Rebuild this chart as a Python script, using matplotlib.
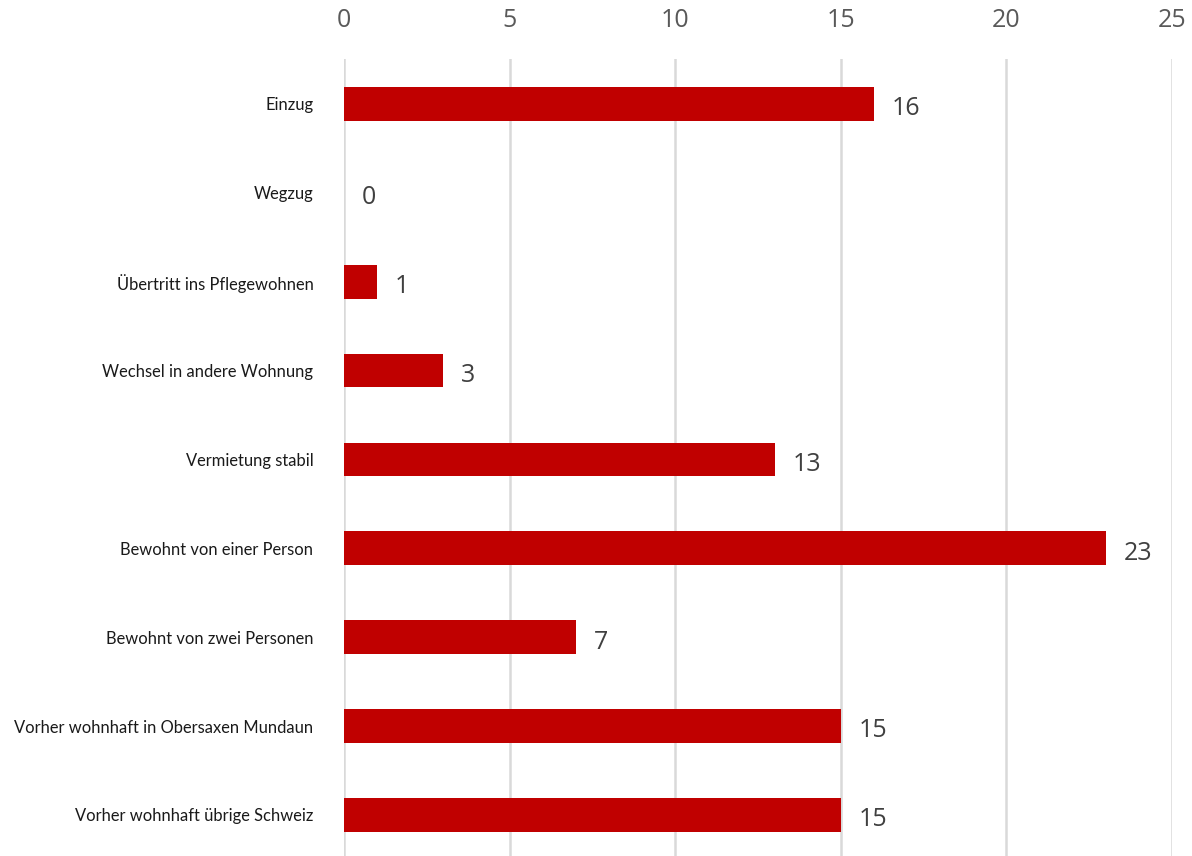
import matplotlib.pyplot as plt

categories = ['Einzug', 'Wegzug', 'Übertritt ins Pflegewohnen',
              'Wechsel in andere Wohnung', 'Vermietung stabil',
              'Bewohnt von einer Person', 'Bewohnt von zwei Personen',
              'Vorher wohnhaft in Obersaxen Mundaun',
              'Vorher wohnhaft übrige Schweiz']
values = [16, 0, 1, 3, 13, 23, 7, 15, 15]
xticks = [0, 5, 10, 15, 20, 25]

fig = plt.figure(figsize=(11.92, 8.56), dpi=100)
ax = fig.add_axes([0.2886, -0.004, 0.6946, 0.9346])

pos = list(range(len(categories)))
ax.barh(pos, values, height=0.38, color='#C00000', edgecolor='none', zorder=3)

# value labels just right of each bar
for p, v in zip(pos, values):
    ax.annotate(str(v), (v, p), xytext=(13, -3.5), textcoords='offset points',
                ha='left', va='center', fontsize=18, color='#404040',
                family=['Open Sans', 'DejaVu Sans'])

ax.set_xlim(0, 25)
ax.set_ylim(len(categories) - 0.5, -0.5)
ax.set_xticks(xticks)
ax.xaxis.tick_top()
ax.tick_params(axis='x', length=0, pad=19, labelsize=18, labelcolor='#595959')
ax.tick_params(axis='y', length=0, pad=22)
for lab in ax.get_xticklabels():
    lab.set_family(['Open Sans', 'DejaVu Sans'])
ax.set_yticks(pos)
ax.set_yticklabels(categories, fontsize=11.9, color='#1a1a1a',
                   family=['Lato', 'DejaVu Sans'])

ax.grid(axis='x', color='#D9D9D9', linewidth=1.8, zorder=0)
for s in ax.spines.values():
    s.set_visible(False)

fig.savefig('out.png', dpi=100)
